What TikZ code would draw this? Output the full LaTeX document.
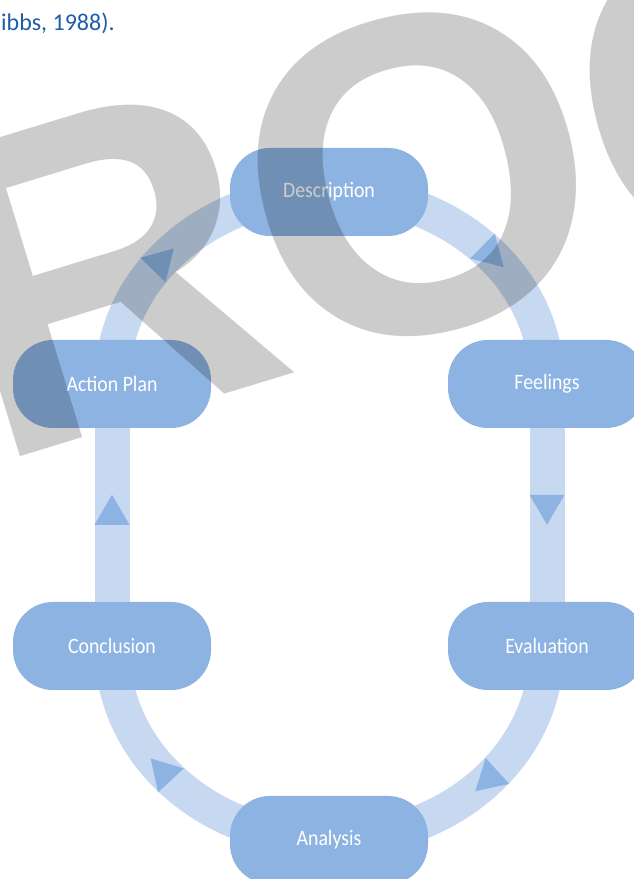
\documentclass[tikz,border=0pt]{standalone}
\usepackage{fontspec}
\setmainfont{Carlito}
\newfontfamily\labelfont[FakeStretch=0.9]{Carlito}
\newfontfamily\markfont{Liberation Sans}
\usetikzlibrary{decorations.markings,backgrounds}

\definecolor{stagefill}{HTML}{8DB3E2}
\definecolor{trackfill}{HTML}{C6D9F1}
\definecolor{citeblue}{HTML}{1F5CA8}

\tikzset{
  stage/.style={rectangle, rounded corners=40pt, fill=stagefill, minimum width=198pt,
    minimum height=88pt, inner sep=0pt, text=white, font=\labelfont\fontsize{22}{22}\selectfont},
  track/.style={draw=trackfill, line width=35pt},
  flow/.style={track, postaction={decorate, decoration={markings, mark=at position #1 with
    {\fill[stagefill] (-15pt,-17.5pt) -- (15pt,0pt) -- (-15pt,17.5pt) -- cycle;}}}},
  wmark/.style={inner sep=0pt, rotate=15, text=black, text opacity=0.2,
    font=\markfont\bfseries\fontsize{452}{452}\selectfont}
}

\begin{document}
\begin{tikzpicture}[x=1pt,y=1pt]
\useasboundingbox (0,0) rectangle (634,879);

% Citation line
\node[anchor=base west, inner sep=0pt, text=citeblue, font=\fontsize{24}{24}\selectfont] (cite) at (1,848) {ibbs, 1988).};

% Stages of the cycle
\node[stage] (desc) at (329,687) {Description};
\node[stage] (feel) at (547,495) {Feelings};
\node[stage] (eval) at (547,233) {Evaluation};
\node[stage] (anal) at (329,39) {Analysis};
\node[stage] (concl) at (112,233) {Conclusion};
\node[stage] (plan) at (112,495) {Action Plan};

% Track with arrows
\begin{scope}[on background layer]
\draw[flow=0.56] (desc.center) to[out=0,in=90] (feel.center);
\draw[flow=0.48] (feel.center) -- (eval.center);
\draw[flow=0.47] (eval.center) to[out=-90,in=0] (anal.center);
\draw[flow=0.58] (anal.center) to[out=180,in=-90] (concl.center);
\draw[flow=0.52] (concl.center) -- (plan.center);
\draw[flow=0.43] (plan.center) to[out=90,in=180] (desc.center);
\end{scope}

% Watermark
\begin{scope}
\clip (0,0) rectangle (634,879);
\node[wmark, rotate=2] (wmR) at (102,610) {R};
\node[wmark] (wmO) at (418,704) {O};
\node[wmark] (wmOO) at (750,794) {O};
\end{scope}

\end{tikzpicture}
\end{document}
